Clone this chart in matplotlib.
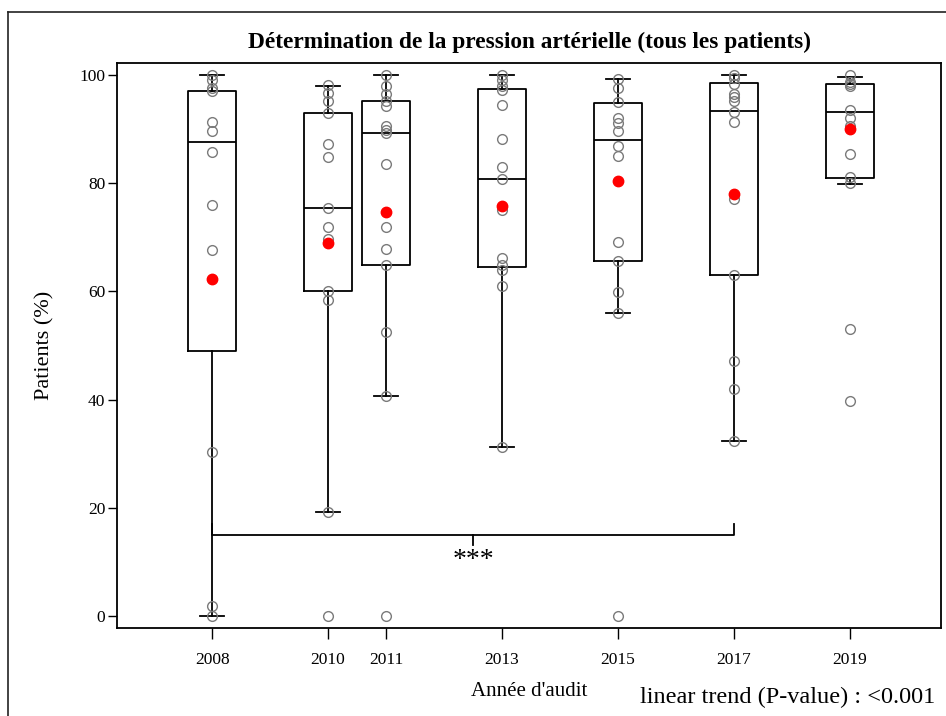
import numpy as np
import matplotlib
matplotlib.use("Agg")
import matplotlib.pyplot as plt
from matplotlib.lines import Line2D

plt.rcParams['font.family'] = ['Liberation Serif', 'DejaVu Serif']

# audit years and the per-practice percentages
years = [2008, 2010, 2011, 2013, 2015, 2017, 2019]

pts_2008 = [100, 99, 97.5, 97, 91.3, 89.6, 85.7, 75.9, 67.6, 30.3, 1.8, 0]
pts_2010 = [98.1, 96.6, 95.2, 93.0, 87.2, 84.8, 75.4, 71.8, 69.6, 60.1, 58.4, 19.2, 0]
pts_2011 = [100, 98, 96.5, 95.2, 94.2, 90.5, 89.8, 89.3, 83.6, 71.8, 67.8, 64.9, 52.5, 40.6, 0]
pts_2013 = [100, 99.1, 98, 97.3, 94.4, 88.1, 83.0, 80.7, 75.0, 66.2, 64.8, 64.0, 61.0, 31.3]
pts_2015 = [99.3, 97.5, 95.0, 92.1, 91.2, 89.6, 86.9, 85.0, 69.2, 65.6, 59.9, 56.0, 0]
pts_2017 = [100, 99.5, 98.3, 96.5, 95.9, 95.2, 93.2, 91.3, 77.0, 63.1, 47.1, 42.0, 32.4]
pts_2019 = [100, 98.7, 98.3, 98.0, 93.5, 92.0, 90.5, 85.4, 81.2, 80.0, 53.1, 39.7]
points = [pts_2008, pts_2010, pts_2011, pts_2013, pts_2015, pts_2017, pts_2019]

# box statistics
q1 = [48.9, 60.1, 64.9, 64.5, 65.6, 63.1, 80.9]
med = [87.6, 75.4, 89.3, 80.7, 88.0, 93.4, 93.1]
q3 = [97.1, 93.0, 95.1, 97.4, 94.8, 98.5, 98.3]
whis_lo = [0, 19.2, 40.6, 31.3, 56.0, 32.4, 79.8]
whis_hi = [100, 98.0, 100, 100, 99.3, 100, 99.7]
means = [62.2, 68.9, 74.7, 75.8, 80.3, 78.0, 90.0]

fig = plt.figure(figsize=(9.46, 7.16), dpi=100)
ax = fig.add_axes([117/946, 1-628/716, (941-117)/946, (628-63)/716])

stats = []
for i in range(len(years)):
    stats.append(dict(q1=q1[i], med=med[i], q3=q3[i],
                      whislo=whis_lo[i], whishi=whis_hi[i], fliers=[]))

lw = 1.3
ax.bxp(stats, positions=years, widths=0.82, capwidths=0.42, showfliers=False,
       boxprops=dict(color='black', linewidth=lw),
       whiskerprops=dict(color='black', linewidth=lw),
       capprops=dict(color='black', linewidth=lw),
       medianprops=dict(color='black', linewidth=lw),
       manage_ticks=False)

for yr, vals in zip(years, points):
    ax.plot([yr]*len(vals), vals, 'o', ms=7, mfc='none', mec='#7a7a7a', mew=1.0, zorder=3)

ax.plot(years, means, 'o', ms=7.5, color='red', mec='red', zorder=4)

# significance bracket 2008 vs 2017
b_lo, b_hi = 2008, 2017
b_y = 15.0
ax.plot([b_lo, b_lo, b_hi, b_hi], [17, b_y, b_y, 17], color='black', lw=lw)
mid = (b_lo + b_hi) / 2
ax.plot([mid, mid], [b_y, 13.2], color='black', lw=lw)
ax.text(mid, 10.3, '***', ha='center', va='center', fontsize=20)

ax.set_xlim(2006.36, 2020.57)
ax.set_ylim(-2.22, 102.2)
ax.set_xticks(years)
ax.set_xticklabels([str(y) for y in years])
ax.set_yticks([0, 20, 40, 60, 80, 100])
ax.tick_params(axis='x', length=8, width=1, pad=9, labelsize=12.5)
ax.tick_params(axis='y', length=6.5, width=1, pad=2, labelsize=12.5)
for s in ax.spines.values():
    s.set_linewidth(1.3)

ax.set_ylabel('Patients (%)', fontsize=16, labelpad=18)
ax.set_title('Détermination de la pression artérielle (tous les patients)',
             fontsize=16.8, fontweight='bold', pad=11)

fig.text(529/946, 1-692/716, "Année d'audit", ha='center', va='center', fontsize=15)
fig.text(935/946, 1-697/716, 'linear trend (P-value) : <0.001', ha='right',
         va='center', fontsize=17.5)

# outer frame
fig.add_artist(Line2D([8/946, 1.0], [1-12/716, 1-12/716], transform=fig.transFigure,
                      color='#222222', lw=1.2))
fig.add_artist(Line2D([8/946, 8/946], [0, 1-12/716], transform=fig.transFigure,
                      color='#222222', lw=1.2))

fig.savefig('out.png', dpi=100)
